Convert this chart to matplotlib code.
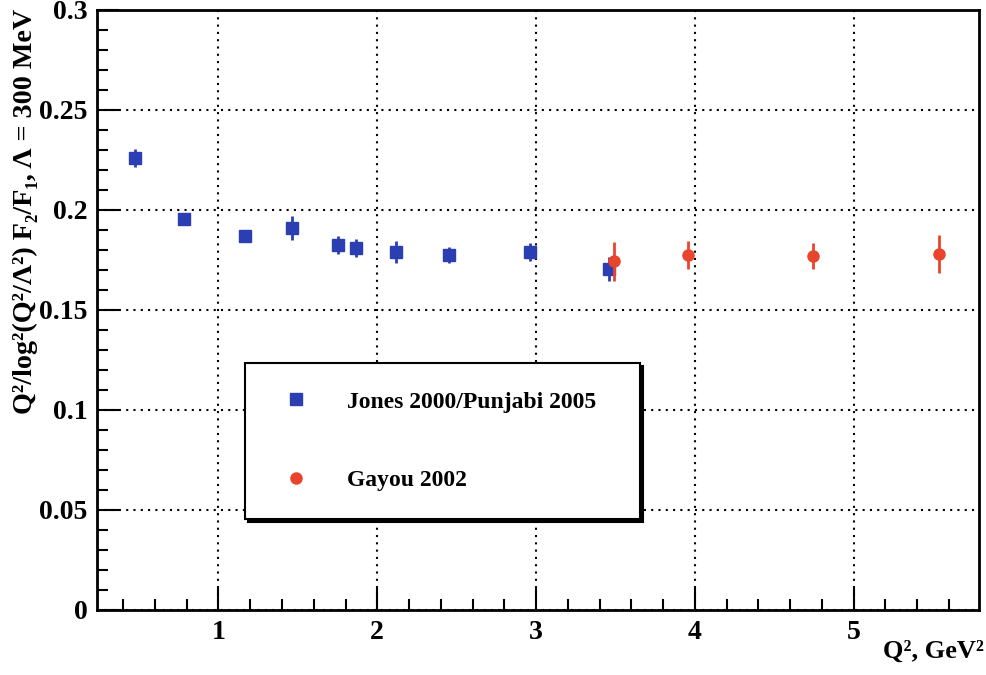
import matplotlib
matplotlib.use('Agg')
import matplotlib.pyplot as plt
from matplotlib.lines import Line2D
from matplotlib.ticker import MultipleLocator

# data
# Jones 2000 / Punjabi 2005
jones_q2 = [0.475, 0.78, 1.168, 1.464, 1.754, 1.865, 2.12, 2.455, 2.959, 3.457]
jones_val = [0.2259, 0.1954, 0.1870, 0.1912, 0.1827, 0.1812, 0.1790, 0.1775, 0.1789, 0.1704]
jones_err = [0.0046, 0.0020, 0.0020, 0.0060, 0.0045, 0.0045, 0.0057, 0.0038, 0.0044, 0.0060]
# Gayou 2002
gayou_q2 = [3.494, 3.959, 4.744, 5.535]
gayou_val = [0.1744, 0.1775, 0.1770, 0.1782]
gayou_err = [0.0098, 0.0068, 0.0064, 0.0095]

labels = ['Jones 2000/Punjabi 2005', 'Gayou 2002']
yticks = [0, 0.05, 0.1, 0.15, 0.2, 0.25, 0.3]
ytick_labels = ['0', '0.05', '0.1', '0.15', '0.2', '0.25', '0.3']

BLUE = '#2b3fb3'
RED = '#e8452c'

plt.rcParams['font.family'] = ['Liberation Serif', 'DejaVu Serif']
plt.rcParams['font.weight'] = 'bold'

fig = plt.figure(figsize=(9.86, 6.75), dpi=100)
ax = fig.add_axes([0.0984, 0.0963, 0.8945, 0.8889])

ax.errorbar(jones_q2, jones_val, yerr=jones_err, fmt='s', color=BLUE,
            ms=8, elinewidth=2, capsize=0, zorder=3)
ax.errorbar(gayou_q2, gayou_val, yerr=gayou_err, fmt='o', color=RED,
            ms=8, elinewidth=2, capsize=0, zorder=4)

ax.set_xlim(0.235, 5.79)
ax.set_ylim(0, 0.3)
ax.xaxis.set_major_locator(MultipleLocator(1))
ax.xaxis.set_minor_locator(MultipleLocator(0.2))
ax.yaxis.set_minor_locator(MultipleLocator(0.01))
ax.set_yticks(yticks)
ax.set_yticklabels(ytick_labels)

ax.tick_params(which='major', direction='in', length=16, width=1.5,
               labelsize=20, pad=7)
ax.tick_params(which='minor', direction='in', length=8, width=1.5)
ax.grid(True, which='major', linestyle=(0, (1, 2.5)), color='black',
        linewidth=1.5)
for sp in ax.spines.values():
    sp.set_linewidth(2)

# y title: sized to the same length as in the reference
ylab = fig.text(0.026, 0.687, 'Q²/log²(Q²/Λ²) F₂/F₁, Λ = 300 MeV',
                rotation=90, ha='center', va='center', fontsize=20)
fig.canvas.draw()
h = ylab.get_window_extent().height
ylab.set_fontsize(20 * 405.0 / h)

fig.text(0.998, 0.018, 'Q², GeV²', fontsize=19, ha='right', va='bottom')

# legend: markers only
handles = [Line2D([], [], ls='none', marker='s', ms=8, color=BLUE),
           Line2D([], [], ls='none', marker='o', ms=8, color=RED)]
leg = ax.legend(handles, labels, loc='upper left',
                bbox_to_anchor=(0.168, 0.133, 0.448, 0.279),
                mode='expand', borderaxespad=0, fontsize=17,
                labelspacing=2.4, borderpad=1.2, handlelength=1.9,
                handletextpad=1.2, fancybox=False, framealpha=1,
                edgecolor='black', shadow={'color': 'black', 'alpha': 1})
leg.get_frame().set_linewidth(1.5)

fig.savefig('out.png', dpi=100)
